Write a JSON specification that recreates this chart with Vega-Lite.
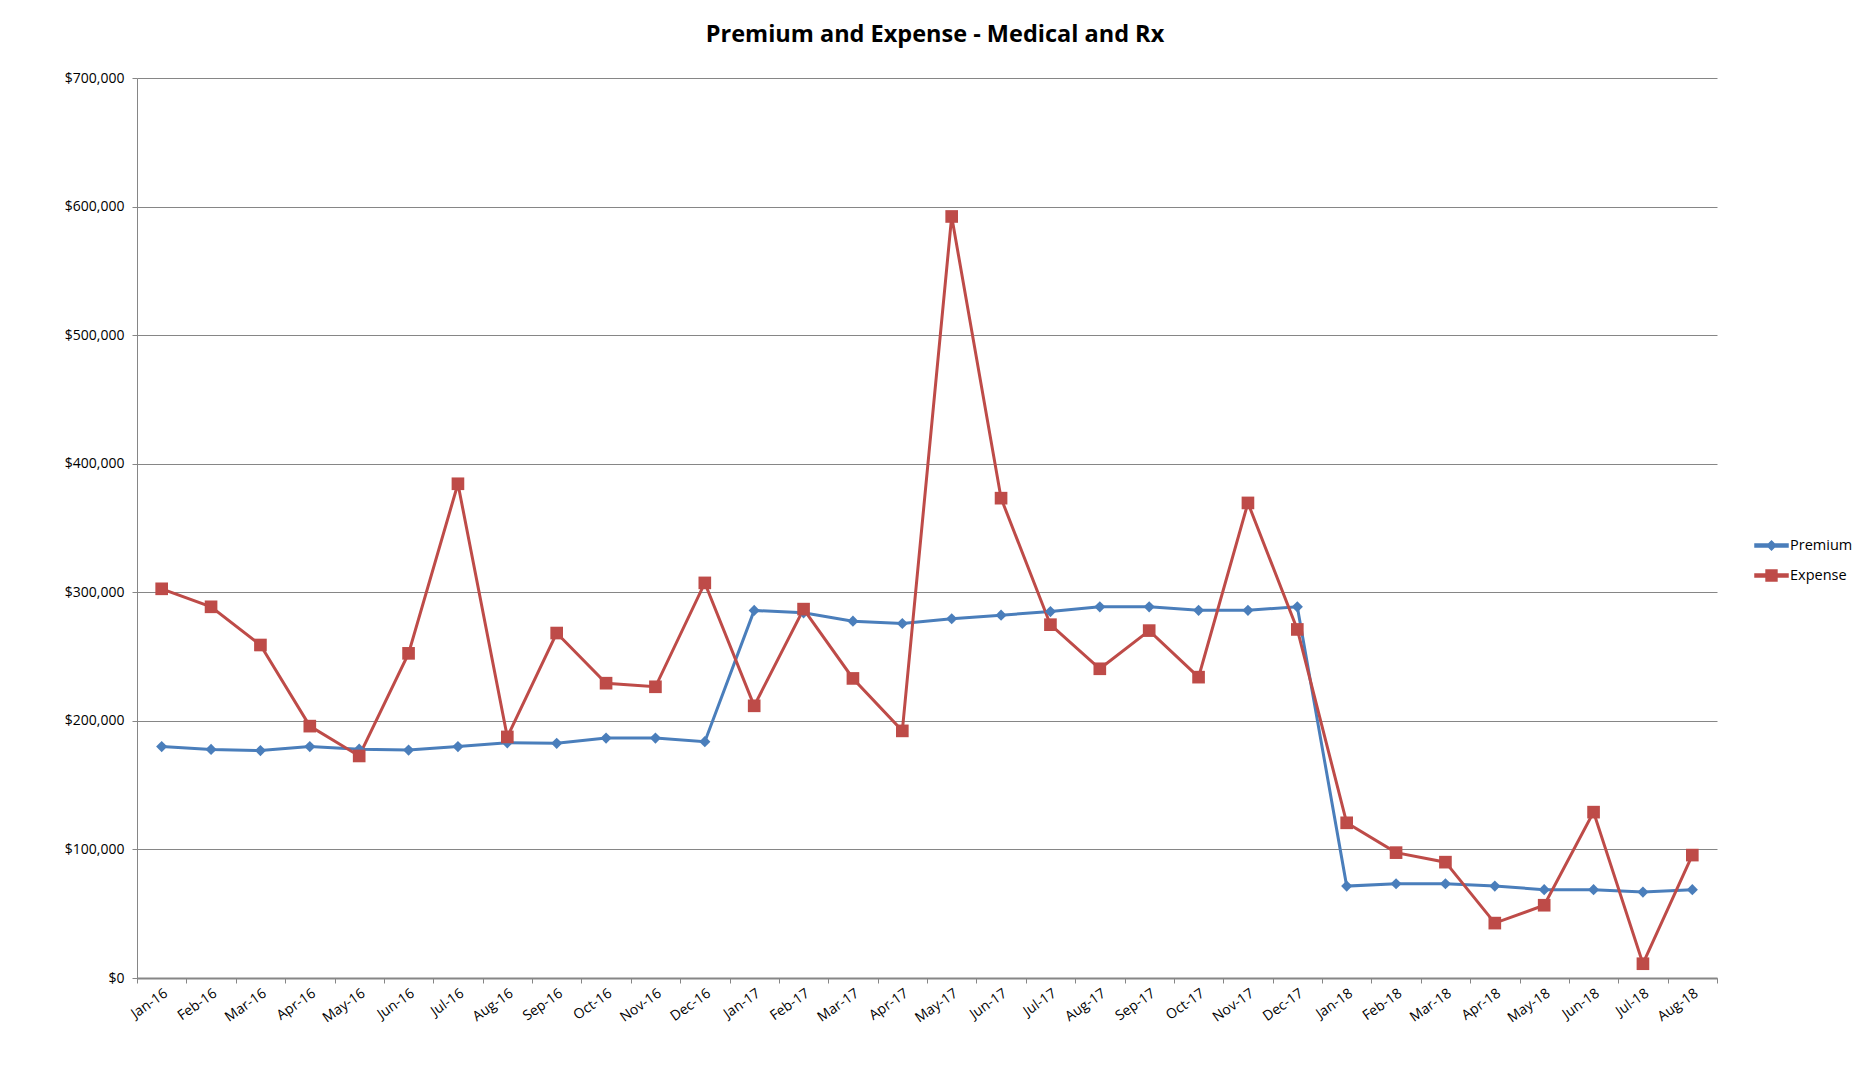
{
  "$schema": "https://vega.github.io/schema/vega-lite/v6.json",
  "width": 1580,
  "height": 900,
  "autosize": {"type": "none"},
  "padding": {"left": 137, "top": 78, "right": 154, "bottom": 88},
  "background": "white",
  "title": {"text": "Premium and Expense - Medical and Rx", "font": "Open Sans", "fontSize": 23.5, "fontWeight": "bold", "color": "#000000", "offset": 25, "anchor": "middle", "dx": 8},
  "config": {
    "view": {"stroke": null},
    "font": "Open Sans"
  },
  "data": {"values": [
    {"month": "Jan-16", "Premium": 180000, "Expense": 302700},
    {"month": "Feb-16", "Premium": 177800, "Expense": 288700},
    {"month": "Mar-16", "Premium": 176900, "Expense": 259000},
    {"month": "Apr-16", "Premium": 180000, "Expense": 195900},
    {"month": "May-16", "Premium": 178000, "Expense": 172700},
    {"month": "Jun-16", "Premium": 177300, "Expense": 252500},
    {"month": "Jul-16", "Premium": 180000, "Expense": 384400},
    {"month": "Aug-16", "Premium": 182900, "Expense": 187500},
    {"month": "Sep-16", "Premium": 182500, "Expense": 268300},
    {"month": "Oct-16", "Premium": 186600, "Expense": 229300},
    {"month": "Nov-16", "Premium": 186600, "Expense": 226500},
    {"month": "Dec-16", "Premium": 183800, "Expense": 307300},
    {"month": "Jan-17", "Premium": 285900, "Expense": 211700},
    {"month": "Feb-17", "Premium": 284000, "Expense": 286900},
    {"month": "Mar-17", "Premium": 277500, "Expense": 233000},
    {"month": "Apr-17", "Premium": 275700, "Expense": 192200},
    {"month": "May-17", "Premium": 279400, "Expense": 592300},
    {"month": "Jun-17", "Premium": 282200, "Expense": 373200},
    {"month": "Jul-17", "Premium": 285000, "Expense": 274800},
    {"month": "Aug-17", "Premium": 288700, "Expense": 240500},
    {"month": "Sep-17", "Premium": 288700, "Expense": 270200},
    {"month": "Oct-17", "Premium": 286000, "Expense": 234000},
    {"month": "Nov-17", "Premium": 286000, "Expense": 369500},
    {"month": "Dec-17", "Premium": 288700, "Expense": 271100},
    {"month": "Jan-18", "Premium": 71500, "Expense": 120700},
    {"month": "Feb-18", "Premium": 73300, "Expense": 97500},
    {"month": "Mar-18", "Premium": 73300, "Expense": 90100},
    {"month": "Apr-18", "Premium": 71500, "Expense": 42700},
    {"month": "May-18", "Premium": 68700, "Expense": 56600},
    {"month": "Jun-18", "Premium": 68700, "Expense": 129000},
    {"month": "Jul-18", "Premium": 66800, "Expense": 11100},
    {"month": "Aug-18", "Premium": 68700, "Expense": 95600}
  ]},
  "transform": [{"fold": ["Premium", "Expense"], "as": ["series", "value"]}],
  "encoding": {
    "x": {
      "field": "month", "type": "nominal", "sort": null,
      "scale": {"type": "band", "paddingInner": 0, "paddingOuter": 0},
      "axis": {
        "title": null, "labelAngle": -35, "labelFontSize": 14, "labelColor": "#000000",
        "tickBand": "extent", "tickSize": 5, "tickColor": "#868686", "domainColor": "#868686", "domainWidth": 2,
        "grid": false, "labelPadding": 3
      }
    },
    "y": {
      "field": "value", "type": "quantitative",
      "scale": {"domain": [0, 700000], "nice": false},
      "axis": {
        "title": null, "values": [0, 100000, 200000, 300000, 400000, 500000, 600000, 700000],
        "format": "$,.0f", "labelFontSize": 14, "labelColor": "#000000",
        "grid": true, "gridColor": "#868686", "gridWidth": 1,
        "domainColor": "#868686", "tickColor": "#868686", "tickSize": 5, "labelPadding": 8
      }
    },
    "color": {
      "field": "series", "type": "nominal",
      "scale": {"domain": ["Premium", "Expense"], "range": ["#4A7EBB", "#BE4B48"]},
      "legend": {
        "title": null, "orient": "none", "legendX": 1617, "legendY": 450,
        "labelFontSize": 14.5, "labelColor": "#000000", "rowPadding": 5, "symbolSize": 1089,
        "labelOffset": 1,
        "encode": {
          "symbols": {
            "update": {
              "shape": {"signal": "datum.value === 'Premium' ? 'M-1,-0.09H1V0.09H-1ZM-0.27,0L0,-0.27L0.27,0L0,0.27Z' : 'M-1,-0.09H1V0.09H-1ZM-0.33,-0.33H0.33V0.33H-0.33Z'"},
              "size": {"value": 1089},
              "fill": {"scale": "color", "field": "value"},
              "stroke": {"value": "transparent"},
              "opacity": {"value": 1}
            }
          }
        }
      }
    }
  },
  "layer": [
    {"mark": {"type": "line", "strokeWidth": 3}},
    {
      "transform": [{"filter": "datum.series === 'Premium'"}],
      "mark": {"type": "point", "filled": true, "opacity": 1, "shape": "diamond", "size": 125}
    },
    {
      "transform": [{"filter": "datum.series === 'Expense'"}],
      "mark": {"type": "point", "filled": true, "opacity": 1, "shape": "square", "size": 160}
    }
  ]
}
